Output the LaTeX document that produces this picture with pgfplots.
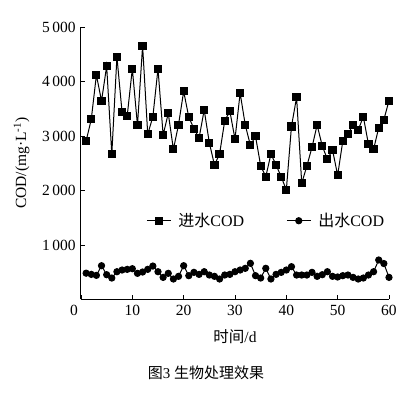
\documentclass[border=0pt]{standalone}
\usepackage{fontspec}
\setmainfont{Liberation Serif}
\newfontfamily\cjk{Noto Sans CJK SC}
\usepackage{pgfplots}
\usepackage{pgfplotstable}
\pgfplotsset{compat=1.18}

\pgfplotstableread{
d v
1 2908
2 3306
3 4119
4 3642
5 4284
6 2664
7 4455
8 3434
9 3367
10 4235
11 3196
12 4657
13 3031
14 3354
15 4235
16 3018
17 3416
18 2756
19 3208
20 3820
21 3345
22 3134
23 2963
24 3477
25 2877
26 2468
27 2670
28 3281
29 3453
30 2945
31 3789
32 3202
33 2829
34 2994
35 2455
36 2253
37 2670
38 2468
39 2253
40 2009
41 3175
42 3710
43 2132
44 2450
45 2793
46 3202
47 2817
48 2572
49 2743
50 2279
51 2908
52 3037
53 3202
54 3110
55 3354
56 2848
57 2756
58 3153
59 3299
60 3648
}\influent

\pgfplotstableread{
d v
1 483
2 461
3 443
4 620
5 455
6 394
7 510
8 541
9 553
10 565
11 480
12 504
13 553
14 614
15 510
16 406
17 480
18 376
19 425
20 620
21 437
22 498
23 461
24 510
25 449
26 425
27 376
28 449
29 461
30 510
31 541
32 572
33 664
34 437
35 394
36 572
37 376
38 461
39 498
40 541
41 602
42 449
43 449
44 449
45 498
46 425
47 455
48 510
49 425
50 413
51 437
52 449
53 406
54 376
55 394
56 449
57 510
58 725
59 660
60 406
}\effluent

\begin{document}
\fontsize{15.5}{18}\selectfont
\begin{tikzpicture}
\path (-81pt,-98.5pt) rectangle (336pt,299.5pt);
\begin{axis}[
  at={(0,0)}, anchor=south west,
  scale only axis, width=308pt, height=272.5pt,
  xmin=0, xmax=60, ymin=0, ymax=5000,
  axis x line*=bottom, axis y line*=left,
  xtick={0,10,...,60},
  xticklabels={\makebox[0pt][r]{0\kern3pt},10,20,30,40,50,60},
  ytick={1000,2000,3000,4000,5000},
  tick align=inside, major tick length=4pt,
  tick style={black, line width=0.8pt},
  axis line style={black, line width=1pt, -},
  /pgf/number format/assume math mode=true,
  /pgf/number format/1000 sep={\,},
  ticklabel style={font=\fontsize{15.5}{18}\selectfont},
  xlabel={{\cjk 时间}/d},
  ylabel={COD/(mg·L\textsuperscript{-1})},
  label style={font=\fontsize{15.5}{18}\selectfont},
  xlabel style={yshift=-4pt},
  ylabel style={yshift=2pt},
  legend columns=2,
  legend image code/.code={\draw[mark repeat=2,mark phase=2] plot coordinates {(0pt,0pt)(12pt,0pt)(24pt,0pt)};},
  legend style={draw=none, fill=none, inner sep=0pt, at={(0.212,0.289)}, anchor=west,
    font=\fontsize{16}{18}\selectfont,
    /tikz/every odd column/.append style={column sep=5pt},
    /tikz/every even column/.append style={column sep=40pt}},
  legend cell align=left,
]
\addplot[black, line width=1pt, mark=square*, mark size=3.6pt, mark options={solid}] table[x=d,y=v] {\influent};
\addlegendentry{{\cjk 进水}COD}
\addplot[black, line width=1pt, mark=*, mark size=3.1pt] table[x=d,y=v] {\effluent};
\addlegendentry{{\cjk 出水}COD}
\end{axis}
\node[font=\fontsize{15}{17}\selectfont] at (125pt,-73.5pt) {{\cjk 图}3 {\cjk 生物处理效果}};
\end{tikzpicture}
\end{document}
